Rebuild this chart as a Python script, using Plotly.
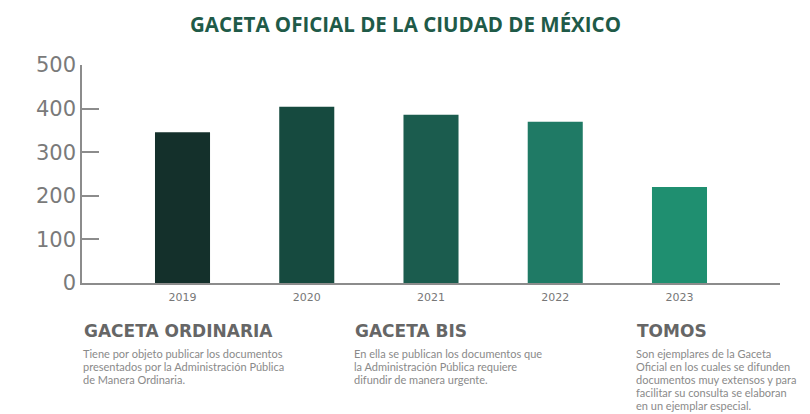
import plotly.graph_objects as go

years = ["2019", "2020", "2021", "2022", "2023"]
values = [346, 404, 386, 370, 220]
colors = ["#14302b", "#164a3f", "#1b5c4e", "#1f7a65", "#1f8f70"]
y_ticks = [0, 100, 200, 300, 400, 500]

title = "GACETA OFICIAL DE LA CIUDAD DE MÉXICO"
sections = [
    ("GACETA ORDINARIA", ["Tiene por objeto publicar los documentos",
                          "presentados por la Administración Pública",
                          "de Manera Ordinaria."], 82),
    ("GACETA BIS", ["En ella se publican los documentos que",
                    "la Administración Pública requiere",
                    "difundir de manera urgente."], 353),
    ("TOMOS", ["Son ejemplares de la Gaceta",
               "Oficial en los cuales se difunden",
               "documentos muy extensos y para",
               "facilitar su consulta se elaboran",
               "en un ejemplar especial."], 635),
]

OFF = 8  # page body margin
W, H = 810 - OFF, 414 - OFF
L, T = 82 - OFF, 65 - OFF
PW, PH = 698, 218
R = W - L - PW
B = H - T - PH


def px_x(px):
    return (px - OFF - L) / PW


def px_y(py):
    return (T + PH - (py - OFF)) / PH


fig = go.Figure()
fig.add_trace(go.Bar(
    x=years, y=values, marker=dict(color=colors, line=dict(width=0)),
    hoverinfo="x+y", showlegend=False,
))

annotations = []
for yr, v in zip(years, values):
    annotations.append(dict(
        x=yr, y=v, xref="x", yref="y", text=str(v), showarrow=False,
        yanchor="bottom", yshift=9,
        font=dict(family="DejaVu Sans", size=16, color="#6e6e6e"),
    ))

annotations.append(dict(
    x=px_x(405), y=px_y(8), xref="paper", yref="paper", text="<b>%s</b>" % title,
    showarrow=False, xanchor="center", yanchor="top", borderpad=0, yshift=-1,
    font=dict(family="Open Sans", size=20.5, color="#1f5a48"),
))

for head, lines, xpx in sections:
    annotations.append(dict(
        x=px_x(xpx), y=px_y(331), xref="paper", yref="paper",
        text="<b>%s</b>" % head, showarrow=False,
        xanchor="left", yanchor="middle",
        font=dict(family="DejaVu Sans", size=17, color="#666666"),
    ))
    for i, ln in enumerate(lines):
        annotations.append(dict(
            x=px_x(xpx - 1), y=px_y(353 + 13.2 * i), xref="paper", yref="paper",
            text=ln, showarrow=False, xanchor="left", yanchor="middle",
            font=dict(family="Lato", size=11, color="#8a8a8a"),
        ))

fig.update_layout(
    width=W, height=H,
    margin=dict(l=L, r=R, t=T, b=B, pad=0),
    paper_bgcolor="white", plot_bgcolor="white",
    bargap=0.557,
    annotations=annotations,
    xaxis=dict(
        type="category", range=[-0.809, 4.809],
        showgrid=False, zeroline=False,
        showline=True, linecolor="#8c8c8c", linewidth=1.5,
        ticks="", ticklabelstandoff=3,
        tickfont=dict(family="DejaVu Sans", size=11, color="#777777"),
    ),
    yaxis=dict(
        range=[0, 500], tickvals=y_ticks,
        showgrid=False, zeroline=False,
        showline=True, linecolor="#8c8c8c", linewidth=1.5,
        ticks="inside", ticklen=17, tickwidth=1.5, tickcolor="#8c8c8c",
        ticklabelstandoff=0,
        tickfont=dict(family="DejaVu Sans", size=21, color="#7a7a7a"),
    ),
)

fig.write_html("out.html")
